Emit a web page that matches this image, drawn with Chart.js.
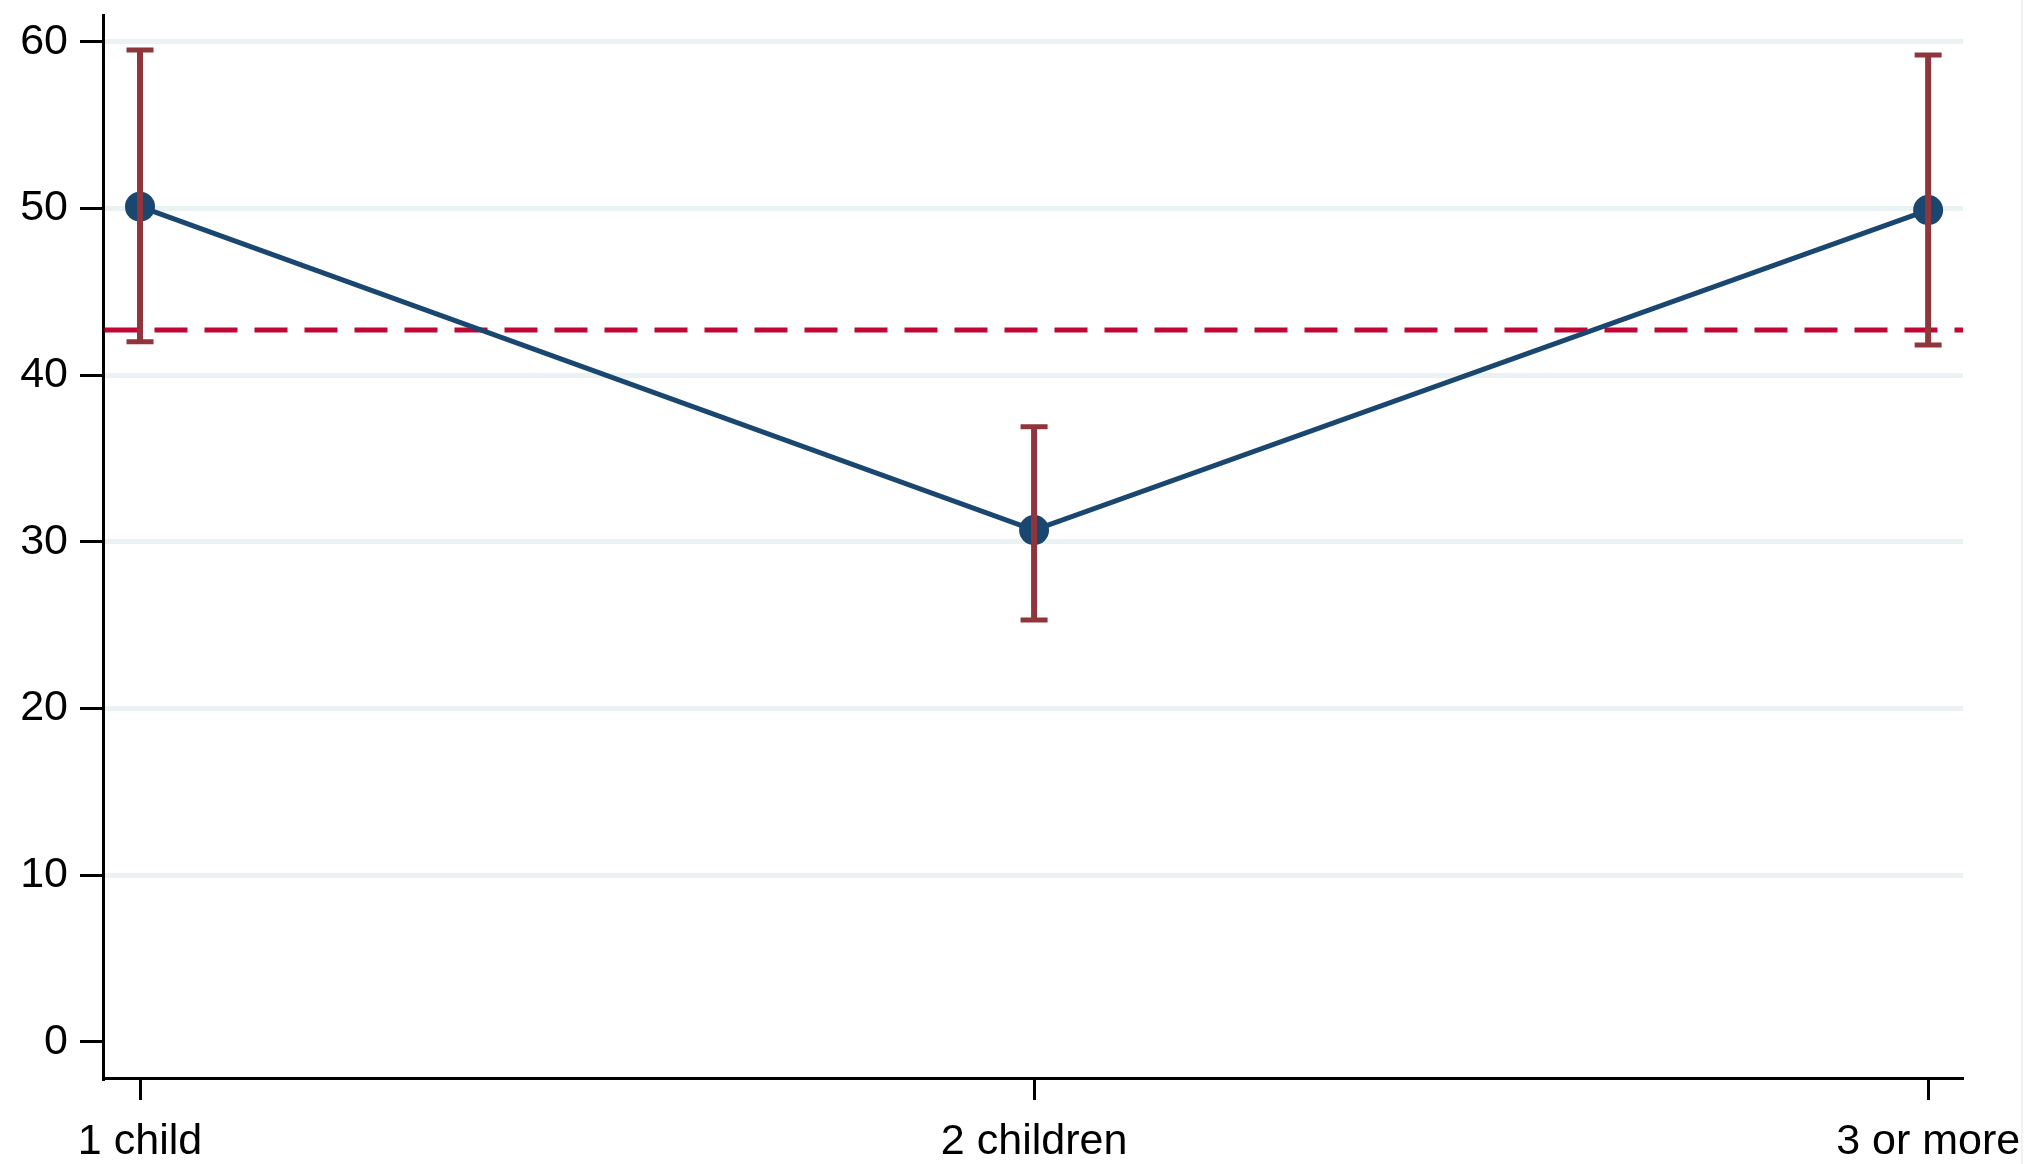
<!DOCTYPE html>
<html>
<head>
<meta charset="utf-8">
<title>Share by number of children</title>
<script src="https://cdn.jsdelivr.net/npm/chart.js@4.4.1/dist/chart.umd.min.js"></script>
<style>
    html, body { margin: 0; padding: 0; background: #fff; }
    canvas { display: block; }
</style>
</head>
<body>
<canvas id="marginsChart" width="2041" height="1164"></canvas>
<script>
// Data
const xLabels = ['1 child', '2 children', '3 or more'];
const means = [50.1, 30.7, 49.9];
const ciLow = [42.0, 25.3, 41.8];
const ciHigh = [59.5, 36.9, 59.2];
const overallMean = 42.7;
const yTicks = [0, 10, 20, 30, 40, 50, 60];

// Colours (Stata s2color look)
const navy = '#1A476F';
const cranberry = '#90353B';
const refRed = '#C10534';
const gridColor = '#EAF2F3';

// Dashed reference line at the overall mean, drawn under the series
const refLinePlugin = {
    id: 'refLine',
    beforeDatasetsDraw(chart) {
        const { ctx, chartArea, scales } = chart;
        const y = scales.y.getPixelForValue(overallMean);
        ctx.save();
        ctx.strokeStyle = refRed;
        ctx.lineWidth = 5;
        ctx.setLineDash([33, 17]);
        ctx.beginPath();
        ctx.moveTo(chartArea.left + 1.5, y);
        ctx.lineTo(chartArea.right, y);
        ctx.stroke();
        ctx.restore();
    }
};

// Confidence interval caps, drawn over the points
const errorBarPlugin = {
    id: 'errorBars',
    afterDatasetsDraw(chart) {
        const { ctx, scales } = chart;
        const capHalf = 13.5;
        ctx.save();
        ctx.strokeStyle = cranberry;
        ctx.lineCap = 'butt';
        xLabels.forEach((label, i) => {
            const x = scales.x.getPixelForValue(i);
            const yLo = scales.y.getPixelForValue(ciLow[i]);
            const yHi = scales.y.getPixelForValue(ciHigh[i]);
            ctx.lineWidth = 6;
            ctx.beginPath();
            ctx.moveTo(x, yHi);
            ctx.lineTo(x, yLo);
            ctx.stroke();
            ctx.lineWidth = 5;
            ctx.beginPath();
            ctx.moveTo(x - capHalf, yHi);
            ctx.lineTo(x + capHalf, yHi);
            ctx.moveTo(x - capHalf, yLo);
            ctx.lineTo(x + capHalf, yLo);
            ctx.stroke();
        });
        ctx.restore();
    }
};

// Faint frame line at the right edge of the picture
const frameEdgePlugin = {
    id: 'frameEdge',
    afterDraw(chart) {
        const { ctx } = chart;
        ctx.save();
        ctx.strokeStyle = '#EDF2F4';
        ctx.lineWidth = 2;
        ctx.beginPath();
        ctx.moveTo(chart.width - 19, 0);
        ctx.lineTo(chart.width - 19, chart.height);
        ctx.stroke();
        ctx.restore();
    }
};

const labelFont = { family: '"Liberation Sans", Arial, Helvetica, sans-serif', size: 43 };

new Chart(document.getElementById('marginsChart'), {
    type: 'line',
    data: {
        datasets: [{
            data: means.map((v, i) => ({ x: i, y: v })),
            borderColor: navy,
            borderWidth: 5,
            backgroundColor: navy,
            pointBackgroundColor: navy,
            pointBorderWidth: 0,
            pointRadius: 15,
            tension: 0,
            fill: false
        }]
    },
    options: {
        responsive: false,
        devicePixelRatio: 1,
        animation: false,
        layout: { padding: { top: 13, right: 78, bottom: 0, left: 0 } },
        plugins: {
            legend: { display: false },
            tooltip: { enabled: false }
        },
        scales: {
            x: {
                type: 'linear',
                min: -0.0414,
                max: 2.039,
                afterBuildTicks(scale) {
                    scale.ticks = xLabels.map((l, i) => ({ value: i }));
                },
                afterFit(scale) {
                    scale.height = 86;
                    scale.paddingLeft = 0;
                    scale.paddingRight = 0;
                },
                ticks: {
                    color: '#000',
                    font: labelFont,
                    padding: 16,
                    maxRotation: 0,
                    autoSkip: false,
                    callback: (value) => xLabels[value]
                },
                grid: {
                    drawOnChartArea: false,
                    drawTicks: true,
                    tickLength: 22,
                    tickColor: '#000',
                    tickWidth: 3
                },
                border: { display: true, color: '#000', width: 3 }
            },
            y: {
                type: 'linear',
                min: -2.17,
                max: 61.6,
                afterBuildTicks(scale) {
                    scale.ticks = yTicks.map(v => ({ value: v }));
                },
                afterFit(scale) {
                    scale.width = 103;
                    scale.paddingTop = 0;
                    scale.paddingBottom = 0;
                },
                ticks: {
                    color: '#000',
                    font: labelFont,
                    padding: 12
                },
                grid: {
                    color: (ctx) => (ctx.tick && ctx.tick.value === 0) ? 'rgba(0,0,0,0)' : gridColor,
                    lineWidth: 5,
                    drawTicks: true,
                    tickLength: 23,
                    tickColor: '#000',
                    tickWidth: 3
                },
                border: { display: true, color: '#000', width: 3 }
            }
        }
    },
    plugins: [refLinePlugin, errorBarPlugin, frameEdgePlugin]
});
</script>
</body>
</html>
